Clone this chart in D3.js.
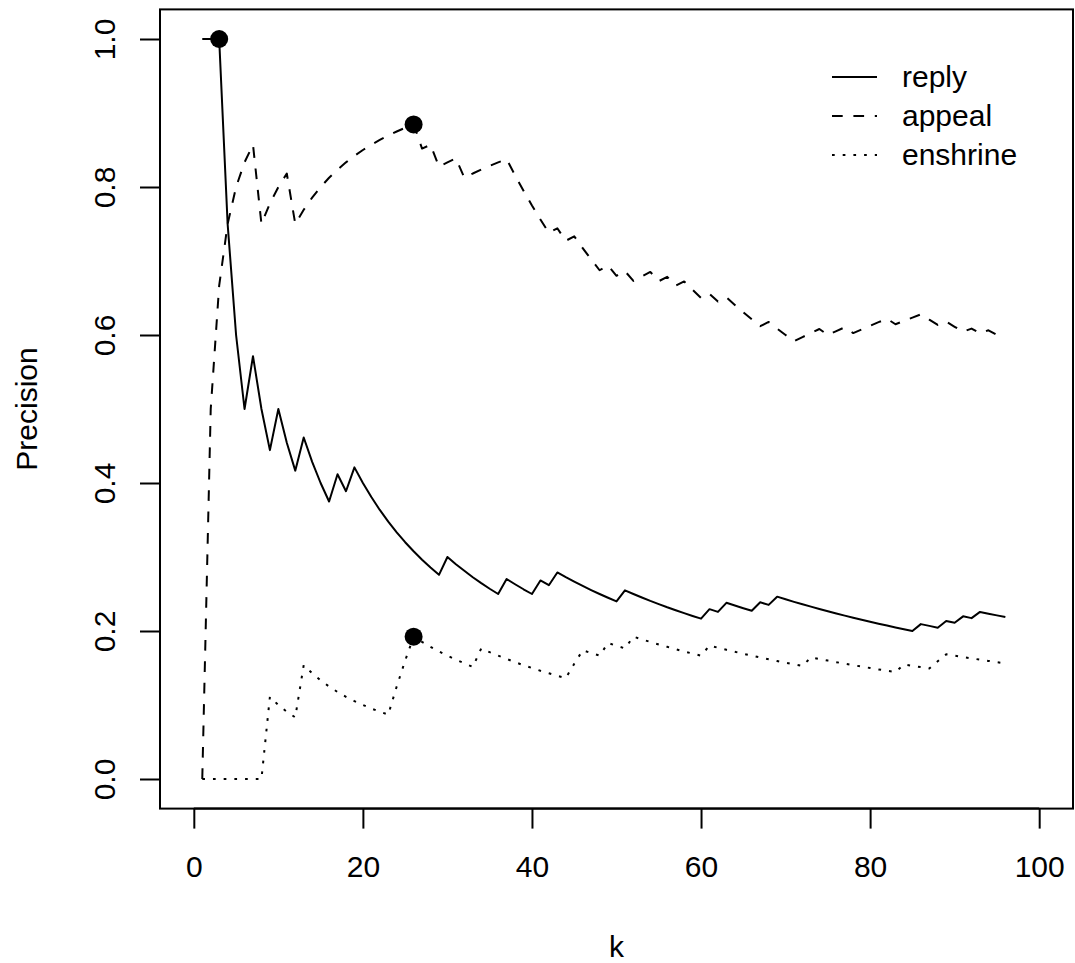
<!DOCTYPE html>
<html>
<head>
<meta charset="utf-8">
<script src="https://cdn.jsdelivr.net/npm/d3@7"></script>
<style>
  body { margin: 0; background: #fff; }
  svg { display: block; font-family: "Liberation Sans", Arial, Helvetica, sans-serif; }
</style>
</head>
<body>
<div id="chart"></div>
<script>
// rank cut-off k
var kValues = [
  1, 2, 3, 4, 5, 6, 7, 8, 9, 10, 11, 12, 13, 14, 15, 16, 17, 18, 19, 20, 21, 22, 23, 24,
  25, 26, 27, 28, 29, 30, 31, 32, 33, 34, 35, 36, 37, 38, 39, 40, 41, 42, 43, 44, 45, 46, 47, 48,
  49, 50, 51, 52, 53, 54, 55, 56, 57, 58, 59, 60, 61, 62, 63, 64, 65, 66, 67, 68, 69, 70, 71, 72,
  73, 74, 75, 76, 77, 78, 79, 80, 81, 82, 83, 84, 85, 86, 87, 88, 89, 90, 91, 92, 93, 94, 95, 96
];

// precision at k
var replyValues = [
  1, 1, 1, 0.75, 0.6, 0.5, 0.5714, 0.5, 0.4444, 0.5, 0.4545, 0.4167, 0.4615, 0.4286, 0.4, 0.375,
  0.4118, 0.3889, 0.4211, 0.4, 0.381, 0.3636, 0.3478, 0.3333, 0.32, 0.3077, 0.2963, 0.2857, 0.2759, 0.3, 0.2903, 0.2813,
  0.2727, 0.2647, 0.2571, 0.25, 0.2703, 0.2632, 0.2564, 0.25, 0.2683, 0.2619, 0.2791, 0.2727, 0.2667, 0.2609, 0.2553, 0.25,
  0.2449, 0.24, 0.2549, 0.25, 0.2453, 0.2407, 0.2364, 0.2321, 0.2281, 0.2241, 0.2203, 0.2167, 0.2295, 0.2258, 0.2381, 0.2344,
  0.2308, 0.2273, 0.2388, 0.2353, 0.2464, 0.2429, 0.2394, 0.2361, 0.2329, 0.2297, 0.2267, 0.2237, 0.2208, 0.2179, 0.2152, 0.2125,
  0.2099, 0.2073, 0.2048, 0.2024, 0.2, 0.2093, 0.2069, 0.2045, 0.2135, 0.2111, 0.2198, 0.2174, 0.2258, 0.2234, 0.2211, 0.2188
];
var appealValues = [
  0, 0.5, 0.6667, 0.75, 0.8, 0.8333, 0.8571, 0.75, 0.7778, 0.8, 0.8182, 0.75, 0.7692, 0.7857, 0.8, 0.8125,
  0.8235, 0.8333, 0.8421, 0.85, 0.8571, 0.8636, 0.8696, 0.875, 0.88, 0.8846, 0.8519, 0.8571, 0.8276, 0.8333, 0.8387, 0.8125,
  0.8182, 0.8235, 0.8286, 0.8333, 0.8378, 0.8158, 0.7949, 0.775, 0.7561, 0.7381, 0.7442, 0.7273, 0.7333, 0.7174, 0.7021, 0.6875,
  0.6939, 0.68, 0.6863, 0.6731, 0.6792, 0.6852, 0.6727, 0.6786, 0.6667, 0.6724, 0.661, 0.65, 0.6557, 0.6452, 0.6508, 0.6406,
  0.6308, 0.6212, 0.6119, 0.6176, 0.6087, 0.6, 0.5915, 0.5972, 0.6027, 0.6081, 0.6, 0.6053, 0.6104, 0.6026, 0.6076, 0.6125,
  0.6173, 0.622, 0.6145, 0.619, 0.6235, 0.6279, 0.6207, 0.6136, 0.618, 0.6111, 0.6044, 0.6087, 0.6022, 0.6064, 0.6, 0.6042
];
var enshrineValues = [
  0, 0, 0, 0, 0, 0, 0, 0, 0.1111, 0.1, 0.0909, 0.0833, 0.1538, 0.1429, 0.1333, 0.125,
  0.1176, 0.1111, 0.1053, 0.1, 0.0952, 0.0909, 0.087, 0.125, 0.16, 0.1923, 0.1852, 0.1786, 0.1724, 0.1667, 0.1613, 0.1563,
  0.1515, 0.1765, 0.1714, 0.1667, 0.1622, 0.1579, 0.1538, 0.15, 0.1463, 0.1429, 0.1395, 0.1364, 0.1556, 0.1739, 0.1702, 0.1667,
  0.1837, 0.18, 0.1765, 0.1923, 0.1887, 0.1852, 0.1818, 0.1786, 0.1754, 0.1724, 0.1695, 0.1667, 0.1803, 0.1774, 0.1746, 0.1719,
  0.1692, 0.1667, 0.1642, 0.1618, 0.1594, 0.1571, 0.1549, 0.1528, 0.1644, 0.1622, 0.16, 0.1579, 0.1558, 0.1538, 0.1519, 0.15,
  0.1481, 0.1463, 0.1446, 0.1548, 0.1529, 0.1512, 0.1494, 0.1591, 0.1685, 0.1667, 0.1648, 0.163, 0.1613, 0.1596, 0.1579, 0.1563
];

var seriesNames = ["reply", "appeal", "enshrine"];
// k where each series gets its filled marker
var markerK = [3, 26, 26];

var xTicks = [0, 20, 40, 60, 80, 100];
var yTicks = [0, 0.2, 0.4, 0.6, 0.8, 1.0];

// SVG area
var svgWidth = 1075;
var svgHeight = 963;

// plot region (R style box)
var box = { left: 160, right: 1073, top: 9.4, bottom: 808.6 };

var dashes = ["none", "10.7,10.7", "2.7,8"];
var fontSize = 30;

var svg = d3.select("#chart")
  .append("svg")
  .attr("width", svgWidth)
  .attr("height", svgHeight);

var xScale = d3.scaleLinear()
  .domain([-4, 104])
  .range([box.left, box.right]);

var yScale = d3.scaleLinear()
  .domain([-0.04, 1.04])
  .range([box.bottom, box.top]);

var allSeries = [replyValues, appealValues, enshrineValues];

var line = d3.line()
  .x(function (d) { return xScale(d.k); })
  .y(function (d) { return yScale(d.v); });

// lines
allSeries.forEach(function (vals, i) {
  var pts = kValues.map(function (k, j) { return { k: k, v: vals[j] }; });
  svg.append("path")
    .datum(pts)
    .attr("d", line)
    .attr("fill", "none")
    .attr("stroke", "black")
    .attr("stroke-width", 2)
    .attr("stroke-linejoin", "round")
    .attr("stroke-dasharray", dashes[i]);
});

// filled markers
markerK.forEach(function (k, i) {
  var idx = kValues.indexOf(k);
  svg.append("circle")
    .attr("cx", xScale(k))
    .attr("cy", yScale(allSeries[i][idx]))
    .attr("r", 9)
    .attr("fill", "black");
});

// box
svg.append("rect")
  .attr("x", box.left)
  .attr("y", box.top)
  .attr("width", box.right - box.left)
  .attr("height", box.bottom - box.top)
  .attr("fill", "none")
  .attr("stroke", "black")
  .attr("stroke-width", 2);

// x axis
var xAxis = d3.axisBottom(xScale)
  .tickValues(xTicks)
  .tickSize(20)
  .tickPadding(0)
  .tickFormat(d3.format("d"));

var gx = svg.append("g")
  .attr("transform", `translate(0, ${box.bottom})`)
  .call(xAxis);
gx.select(".domain")
  .attr("d", `M${xScale(0)},0H${xScale(100)}`)
  .attr("stroke-width", 2);
gx.selectAll(".tick line").attr("stroke-width", 2);
gx.selectAll(".tick text")
  .attr("y", 877 - box.bottom)
  .attr("dy", null)
  .attr("font-size", fontSize)
  .attr("font-family", "Liberation Sans, Arial, sans-serif")
  .attr("fill", "black");

// y axis
var yAxis = d3.axisLeft(yScale)
  .tickValues(yTicks)
  .tickSize(20)
  .tickFormat(d3.format(".1f"));

var gy = svg.append("g")
  .attr("transform", `translate(${box.left}, 0)`)
  .call(yAxis);
gy.select(".domain")
  .attr("d", `M0,${yScale(0)}V${yScale(1)}`)
  .attr("stroke-width", 2);
gy.selectAll(".tick line").attr("stroke-width", 2);
gy.selectAll(".tick text")
  .attr("x", null)
  .attr("dy", null)
  .attr("transform", `translate(${115 - box.left}, 0) rotate(-90)`)
  .attr("text-anchor", "middle")
  .attr("font-size", fontSize)
  .attr("font-family", "Liberation Sans, Arial, sans-serif")
  .attr("fill", "black");

// axis titles
svg.append("text")
  .attr("x", (box.left + box.right) / 2)
  .attr("y", 957)
  .attr("text-anchor", "middle")
  .attr("font-size", fontSize)
  .text("k");

svg.append("text")
  .attr("transform", `translate(37, ${(box.top + box.bottom) / 2}) rotate(-90)`)
  .attr("text-anchor", "middle")
  .attr("font-size", fontSize)
  .text("Precision");

// legend (no box)
var legend = svg.append("g");
seriesNames.forEach(function (name, i) {
  var ly = 77 + i * 39;
  legend.append("line")
    .attr("x1", 832)
    .attr("x2", 877)
    .attr("y1", ly)
    .attr("y2", ly)
    .attr("stroke", "black")
    .attr("stroke-width", 2)
    .attr("stroke-dasharray", dashes[i]);
  legend.append("text")
    .attr("x", 902)
    .attr("y", ly + 10)
    .attr("font-size", fontSize)
    .text(name);
});
</script>
</body>
</html>
